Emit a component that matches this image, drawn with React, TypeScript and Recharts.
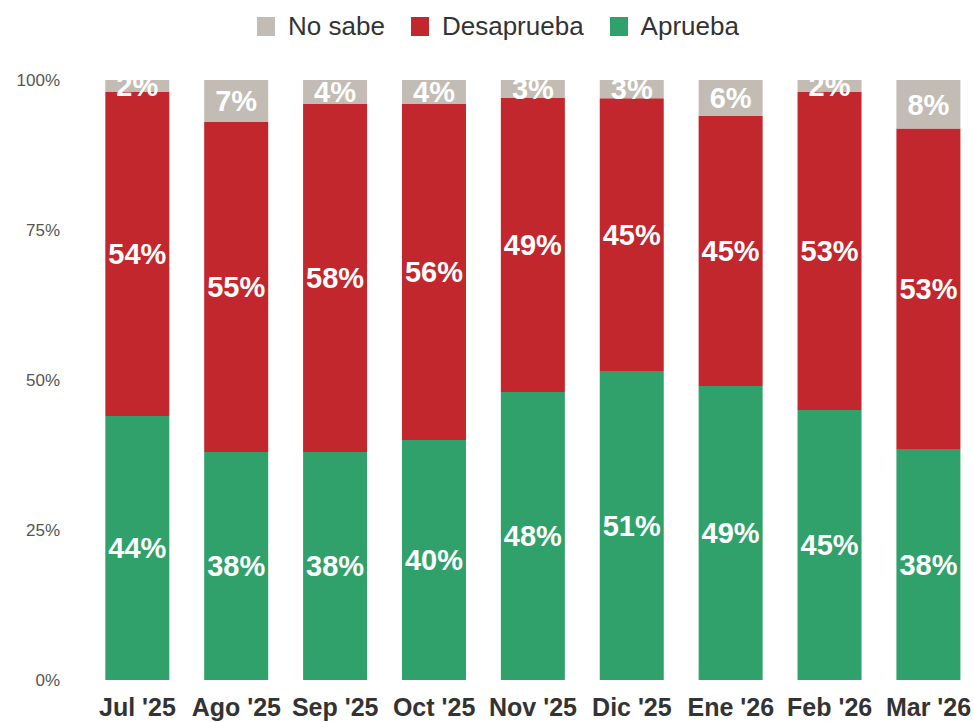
import React from 'react';
import { BarChart, Bar, XAxis, YAxis, LabelList } from 'recharts';

const months = ["Jul '25", "Ago '25", "Sep '25", "Oct '25", "Nov '25", "Dic '25", "Ene '26", "Feb '26", "Mar '26"];
const aprueba = [44, 38, 38, 40, 48, 51, 49, 45, 38];
const desaprueba = [54, 55, 58, 56, 49, 45, 45, 53, 53];
const noSabe = [2, 7, 4, 4, 3, 3, 6, 2, 8];
const yTicks = [0, 0.25, 0.5, 0.75, 1];

const GREEN = '#30a16b';
const RED = '#c1272d';
const GRAY = '#c2bcb4';

const data = months.map((m, i) => ({
  month: m,
  aprueba: aprueba[i],
  desaprueba: desaprueba[i],
  noSabe: noSabe[i],
}));

const legendItems = [
  { name: 'No sabe', color: GRAY },
  { name: 'Desaprueba', color: RED },
  { name: 'Aprueba', color: GREEN },
];

const FONT = '"Liberation Sans", Arial, sans-serif';

const TopLegend = () => (
  <div style={{ position: 'absolute', top: 11, left: 0, width: 974, display: 'flex', justifyContent: 'center', gap: 26, fontFamily: FONT, fontSize: 26, color: '#333', paddingLeft: 22, boxSizing: 'border-box' }}>
    {legendItems.map((it) => (
      <div key={it.name} style={{ display: 'flex', alignItems: 'center' }}>
        <span style={{ width: 18, height: 19, background: it.color, display: 'inline-block', marginRight: 13 }} />
        <span>{it.name}</span>
      </div>
    ))}
  </div>
);

const labelStyle = {
  fill: '#fff',
  fontSize: 29,
  fontWeight: 700,
  fontFamily: FONT,
} as React.CSSProperties;

const fmt = (v: any) => `${v}%`;

export default function App() {
  return (
    <div style={{ position: 'fixed', left: 0, top: 0, width: 974, height: 722, overflow: 'hidden', background: '#fff' }}>
      <TopLegend />
      <BarChart
        width={990}
        height={722}
        data={data}
        stackOffset="expand"
        barCategoryGap="17.5%"
        margin={{ top: 80, right: 12, left: 0, bottom: 12 }}
      >
        <XAxis
          dataKey="month"
          axisLine={false}
          tickLine={false}
          interval={0}
          tick={{ fill: '#333', fontSize: 25, fontWeight: 700, fontFamily: FONT }}
          tickMargin={12}
        />
        <YAxis
          width={88}
          ticks={yTicks}
          domain={[0, 1]}
          axisLine={false}
          tickLine={false}
          tickFormatter={(v: number) => `${Math.round(v * 100)}%`}
          tick={{ fill: '#555', fontSize: 17, fontFamily: FONT, dx: -20 }}
        />
        <Bar dataKey="aprueba" stackId="a" fill={GREEN} isAnimationActive={false}>
          <LabelList dataKey="aprueba" position="center" formatter={fmt} style={labelStyle} />
        </Bar>
        <Bar dataKey="desaprueba" stackId="a" fill={RED} isAnimationActive={false}>
          <LabelList dataKey="desaprueba" position="center" formatter={fmt} style={labelStyle} />
        </Bar>
        <Bar dataKey="noSabe" stackId="a" fill={GRAY} isAnimationActive={false}>
          <LabelList dataKey="noSabe" position="center" formatter={fmt} style={labelStyle} />
        </Bar>
      </BarChart>
    </div>
  );
}
